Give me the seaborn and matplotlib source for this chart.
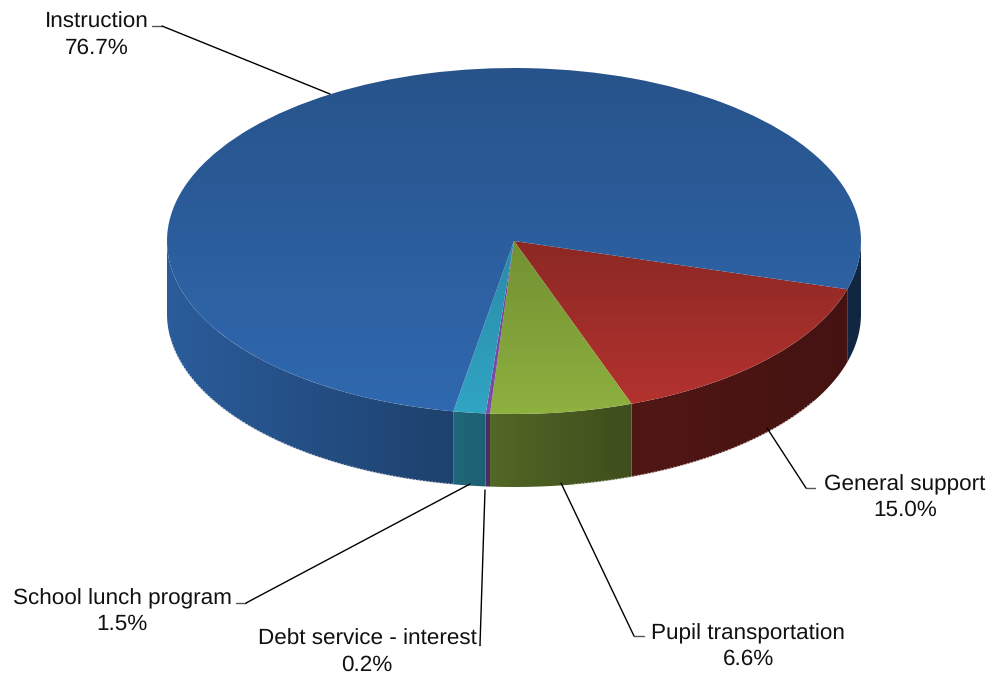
import numpy as np
import matplotlib
matplotlib.use("Agg")
import matplotlib.pyplot as plt
from matplotlib.patches import Polygon
import seaborn as sns

# slices in clockwise order, starting from the right edge of the red one
categories = ["General support", "Pupil transportation", "Debt service - interest",
              "School lunch program", "Instruction"]
shares = [15.0, 6.6, 0.2, 1.5, 76.7]

top_light = ["#b7332f", "#8eb140", "#7d4fa8", "#31a5c4", "#3069b0"]
top_dark = ["#601d1a", "#566f24", "#5a3580", "#20708a", "#27538a"]

W, H = 993, 674
CX, CY, RX, RY = 514, 241, 347, 173
DEPTH = 73 / RY
START = -16.2

sns.set_theme(style="white")
plt.rcParams["font.family"] = ["Liberation Sans", "DejaVu Sans"]
plt.rcParams["text.hinting"] = "no_hinting"

fig = plt.figure(figsize=(W / 100, H / 100), dpi=100)
ax = fig.add_axes([0, 0, 1, 1])


def px(x, y):
    # picture pixels to pie units
    return (x - CX) / RX, (CY - y) / RY


def shade(x):
    # side wall gets darker from left to right
    return np.interp(x, [-1, -0.17, 0.33, 1], [0.88, 0.62, 0.44, 0.37])


wedges, _ = ax.pie(shares, startangle=START, counterclock=False, radius=1,
                   center=(0, 0), wedgeprops={"linewidth": 0})
ax.set_aspect("auto")
xlim = (px(0, 0)[0], px(W, 0)[0])
ylim = (px(0, H)[1], px(0, 0)[1])

ramp = np.linspace(0, 1, 256).reshape(-1, 1)
for wedge, light, dark in zip(wedges, top_light, top_dark):
    cmap = sns.blend_palette([dark, light], as_cmap=True)
    # first row is the top of the ellipse
    im = ax.imshow(ramp, cmap=cmap, extent=(-1, 1, -1, 1), origin="upper",
                   aspect="auto", zorder=3)
    im.set_clip_path(wedge)
    wedge.set_facecolor("none")

# outer wall, one horizontal gradient per visible stretch of a slice
edges = START - np.cumsum([0] + shares) * 3.6
grid = np.linspace(-1, 1, 512)
for i in range(len(shares)):
    rgb = np.array(matplotlib.colors.to_rgb(top_light[i]))
    thetas = np.arange(edges[i], edges[i + 1] - 0.25, -0.25)
    thetas = np.append(thetas, edges[i + 1])
    visible = np.sin(np.radians(thetas)) <= 0
    breaks = np.where(np.diff(visible.astype(int)) != 0)[0] + 1
    for part, mask in zip(np.split(thetas, breaks), np.split(visible, breaks)):
        if not mask.all() or len(part) < 2:
            continue
        xs, ys = np.cos(np.radians(part)), np.sin(np.radians(part))
        outline = np.column_stack([np.r_[xs, xs[::-1]], np.r_[ys, ys[::-1] - DEPTH]])
        poly = Polygon(outline, closed=True, facecolor="none", edgecolor="none", zorder=1)
        ax.add_patch(poly)
        colors = (rgb[None, :] * shade(grid)[:, None])[None, :, :]
        im = ax.imshow(colors, extent=(-1, 1, -1 - DEPTH, 1), aspect="auto", zorder=2)
        im.set_clip_path(poly)

# pale fringe along the lower rim
for a, b in [(-172, -100), (-80, -30)]:
    t = np.radians(np.linspace(a, b, 200))
    ax.plot(np.cos(t), np.sin(t) - DEPTH, color="#e8e4e4", lw=1.1, alpha=0.7,
            dashes=(1, 1.2), zorder=3)

# labels, name and share as separate lines so the spacing can match
label_pos = [(905, 495), (748, 644), (367, 650), (122, 609), (97, 33)]
leaders = [
    [(815, 488), (806, 488), (767, 428)],
    [(644, 636), (634, 636), (561, 483)],
    [(479, 645), (480, 645), (485, 490)],
    [(236, 603), (246, 603), (470, 484)],
    [(152, 26), (162, 26), (330, 94)],
]
for name, val, pos, pts in zip(categories, shares, label_pos, leaders):
    ax.text(*px(pos[0], pos[1] - 5), name, ha="center", va="baseline", fontsize=16.2,
            color="#111111", zorder=5)
    ax.text(*px(pos[0], pos[1] + 21), f"{val}%", ha="center", va="baseline", fontsize=16.2,
            color="#111111", zorder=5)
    line = np.array([px(*p) for p in pts])
    ax.plot(line[:2, 0], line[:2, 1], color="#555555", lw=1, zorder=4)
    ax.plot(line[1:, 0], line[1:, 1], color="black", lw=1, zorder=4)

ax.set_xlim(xlim)
ax.set_ylim(ylim)
ax.axis("off")
fig.savefig("out.png", dpi=100, facecolor="white")
